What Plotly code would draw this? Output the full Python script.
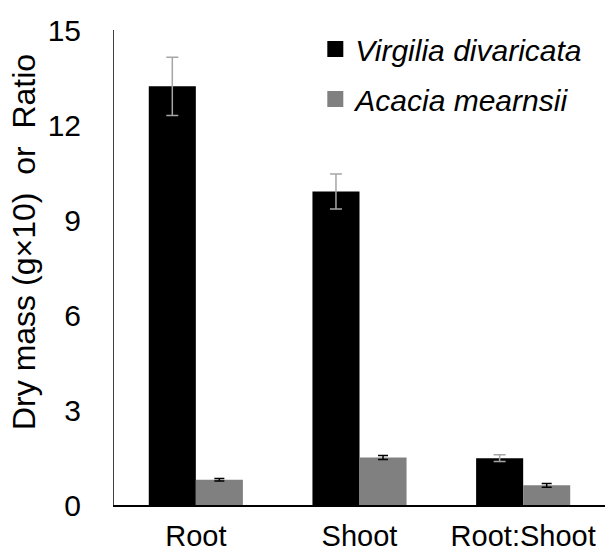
import plotly.graph_objects as go

categories = ["Root", "Shoot", "Root:Shoot"]
series_names = ["Virgilia divaricata", "Acacia mearnsii"]
virgilia_values = [13.22, 9.90, 1.48]
virgilia_errors = [0.92, 0.55, 0.11]
acacia_values = [0.80, 1.50, 0.62]
acacia_errors = [0.04, 0.06, 0.06]
y_ticks = [0, 3, 6, 9, 12, 15]
y_title = "Dry mass (g\u00d710)\u00a0\u00a0or\u00a0\u00a0Ratio"

FONT = "Arial, Liberation Sans, sans-serif"
BLACK = "#000000"
GREY = "#808080"

fig = go.Figure()
fig.add_trace(go.Bar(
    x=categories, y=virgilia_values, name=series_names[0],
    marker=dict(color=BLACK, line=dict(width=0)),
    error_y=dict(type="data", array=virgilia_errors, color="#a6a6a6", thickness=1.5, width=6),
    showlegend=False,
))
fig.add_trace(go.Bar(
    x=categories, y=acacia_values, name=series_names[1],
    marker=dict(color=GREY, line=dict(width=0)),
    error_y=dict(type="data", array=acacia_errors, color="#000000", thickness=1.5, width=5),
    showlegend=False,
))
# legend proxies with larger square symbols
for nm, col in zip(series_names, [BLACK, GREY]):
    fig.add_trace(go.Scatter(
        x=[None], y=[None], mode="markers", name=nm, legendgroup=nm,
        marker=dict(symbol="square", size=18, color=col),
    ))

fig.update_layout(
    width=606, height=554,
    margin=dict(l=114, r=1, t=30, b=49),
    paper_bgcolor="white", plot_bgcolor="white",
    barmode="group", bargap=0.425, bargroupgap=0,
    font=dict(family=FONT, size=30, color="black"),
    legend=dict(
        x=0.41, y=1.015, xanchor="left", yanchor="top",
        bgcolor="rgba(0,0,0,0)", font=dict(size=30, style="italic"),
        tracegroupgap=8, itemsizing="trace",
    ),
    xaxis=dict(
        type="category", range=[-0.5, 2.5],
        showline=True, linecolor="black", linewidth=2,
        ticks="", showgrid=False, zeroline=False,
        tickfont=dict(size=29), ticklabelstandoff=4, automargin=False,
    ),
    yaxis=dict(
        range=[0, 15], tickvals=y_ticks, ticktext=[str(v) for v in y_ticks],
        showline=True, linecolor="#404040", linewidth=1,
        ticks="", showgrid=False, zeroline=False,
        tickfont=dict(size=30), ticklabelstandoff=26, automargin=False,
    ),
    annotations=[dict(
        text=y_title, textangle=-90, showarrow=False,
        xref="paper", yref="paper", x=-(114 - 24) / 491, y=(505 - 242) / 475,
        xanchor="center", yanchor="middle", font=dict(size=32),
    )],
)

fig.write_html("out.html", config={"displayModeBar": False},
               post_script="document.body.style.margin='0';")
